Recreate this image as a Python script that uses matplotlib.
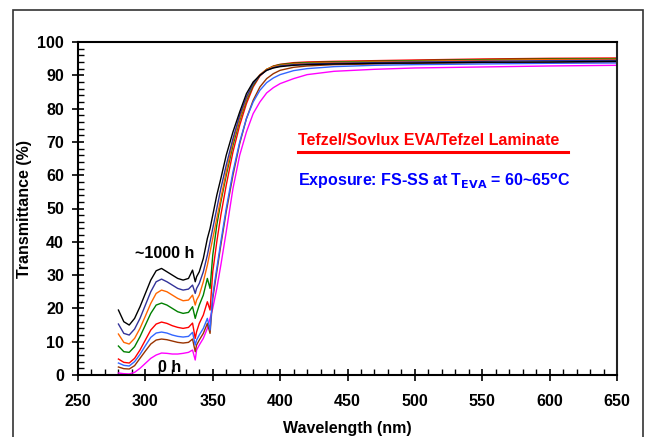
import matplotlib
matplotlib.use("Agg")
import matplotlib.pyplot as plt
from matplotlib.patches import Rectangle
from matplotlib.ticker import MultipleLocator

plt.rcParams['font.family'] = ['Liberation Sans', 'DejaVu Sans']
plt.rcParams['font.weight'] = 'bold'

# wavelength grid (nm)
wl = [280, 284, 288, 292, 296, 300, 304, 308, 312, 316, 320, 324, 328, 332, 335, 337, 338,
      340, 343, 346, 348, 350, 353, 356, 360, 365, 370, 375, 380, 385, 390, 395, 400,
      410, 420, 440, 470, 500, 550, 600, 650]

# transmittance (%) per exposure, ~1000 h first, 0 h last
t_black = [19.5, 16, 15, 17, 20.5, 24.5, 28.5, 31.3, 32, 31, 30, 29, 28.5, 29, 31.5, 28, 29.5,
           31, 35, 41, 44, 48, 54, 59, 66, 73, 79, 84.5, 88, 90, 91.5, 92.2, 92.6,
           93, 93.2, 93.4, 93.6, 93.7, 93.9, 94, 94.2]
t_navy = [15.3, 12.5, 12, 13.8, 17, 21, 25, 28, 28.8, 28, 27, 26, 25.5, 25.8, 27, 24.5, 26,
          27.5, 31, 36, 40, 44, 50, 56, 63, 71, 78, 83.5, 87.5, 90, 91.5, 92.3, 92.8,
          93.2, 93.4, 93.6, 93.8, 94, 94.2, 94.4, 94.5]
t_orange = [12.3, 9.8, 9.3, 11, 14, 17.7, 21.5, 24.5, 25.5, 25, 24, 23, 22.3, 22.5, 24, 21, 22.5,
            24, 28, 33, 37, 41, 47, 53, 61, 70, 77, 83, 87.5, 90.2, 91.8, 92.6, 93,
            93.4, 93.6, 93.8, 94, 94.2, 94.5, 94.7, 94.8]
t_green = [8.7, 7, 6.8, 8.5, 11.5, 15, 18.5, 21, 21.6, 21, 20, 19, 18.5, 18.8, 20.5, 17, 18.5,
           21, 24, 29, 26, 36, 45, 52, 60, 69, 76.5, 82.5, 87, 90, 91.8, 92.7, 93.2,
           93.6, 93.8, 94, 94.2, 94.4, 94.7, 94.9, 95]
t_red = [4.8, 3.8, 3.6, 5, 7.5, 10.5, 13.5, 15.3, 15.9, 15.5, 14.8, 14.3, 14, 14.3, 15.6, 11, 13,
         15.5, 18, 22, 19.5, 31, 40, 48, 57, 67, 75, 81.5, 86.5, 89.8, 91.7, 92.8, 93.3,
         93.8, 94, 94.2, 94.4, 94.6, 94.9, 95.1, 95.2]
t_blue = [3.6, 2.9, 2.7, 4, 6.2, 8.8, 11.3, 12.6, 12.9, 12.6, 12, 11.6, 11.4, 11.6, 12.8, 9, 10.5,
          12, 14, 17, 13.5, 24, 32, 40, 50, 61, 70, 77, 82, 85.5, 87.8, 89.2, 90.2,
          91.4, 92, 92.6, 93, 93.2, 93.4, 93.6, 93.7]
t_brown = [2.4, 1.9, 1.8, 2.8, 5, 7.2, 9.3, 10.5, 10.8, 10.6, 10.2, 9.8, 9.6, 9.8, 10.8, 7, 9,
           10.5, 12.5, 15.5, 12.5, 23, 31, 39, 49, 60, 69.5, 77, 82.5, 86.5, 89, 90.5, 91.5,
           92.4, 92.8, 93.2, 93.4, 93.6, 93.8, 93.9, 94]
t_magenta = [0.6, 0.4, 0.3, 0.8, 2, 3.5, 5, 6, 6.6, 6.5, 6.3, 6.3, 6.5, 6.8, 7.5, 4.5, 7.5,
             9, 11, 14, 17, 20, 26, 33, 43, 56, 66, 73, 78.5, 82, 84.7, 86.3, 87.5,
             89, 90.2, 91.2, 91.8, 92.2, 92.5, 92.8, 93]

series = [
    (t_magenta, '#ff00ff'),
    (t_brown, '#993300'),
    (t_blue, '#3366ff'),
    (t_red, '#ff0000'),
    (t_green, '#008000'),
    (t_orange, '#ff6600'),
    (t_navy, '#333399'),
    (t_black, '#000000'),
]

fig = plt.figure(figsize=(6.45, 4.37), dpi=100)
# outer frame of the slide
fig.patches.append(Rectangle((13/645, -0.1), 630/645, 1.1 - 10/437, transform=fig.transFigure,
                             fill=False, edgecolor='#333333', linewidth=1.2))
ax = fig.add_axes([78/645, 62/437, 539/645, 333/437])

for vals, col in series:
    ax.plot(wl, vals, color=col, linewidth=1.0)

ax.set_xlim(250, 650)
ax.set_ylim(0, 100)
ax.xaxis.set_major_locator(MultipleLocator(50))
ax.xaxis.set_minor_locator(MultipleLocator(10))
ax.yaxis.set_major_locator(MultipleLocator(10))
ax.yaxis.set_minor_locator(MultipleLocator(2))
ax.tick_params(which='major', direction='inout', length=8, width=1.2, labelsize=11.5)
ax.tick_params(axis='x', which='major', pad=10)
ax.tick_params(axis='y', which='major', pad=6)
ax.tick_params(which='minor', direction='in', length=4, width=1.0)
for lab in ax.get_xticklabels() + ax.get_yticklabels():
    lab.set_fontweight('bold')
for s in ['left', 'bottom', 'top', 'right']:
    ax.spines[s].set_linewidth(1.5)
ax.spines['right'].set_color('#222222')

ax.set_xlabel('Wavelength (nm)', fontsize=11.5, fontweight='bold', labelpad=8)
ax.set_ylabel('Transmittance (%)', fontsize=11.5, fontweight='bold', labelpad=4)

ax.text(292, 36.5, '~1000 h', fontsize=11.5, fontweight='bold', ha='left', va='center')
ax.text(309.5, 2.3, '0 h', fontsize=11.5, fontweight='bold', ha='left', va='center')

ax.text(413, 70.3, 'Tefzel/Sovlux EVA/Tefzel Laminate', fontsize=11.5, fontweight='bold',
        color='#ff0000', ha='left', va='center')
ax.plot([413, 613.5], [67, 67], color='#ff0000', linewidth=2.2, clip_on=False)
ax.text(413, 58.3, r'Exposure: FS-SS at T$_{\mathbf{EVA}}$ = 60~65$^{\mathbf{o}}$C', fontsize=11.5,
        fontweight='bold', color='#0000ff', ha='left', va='center')

fig.savefig('out.png', dpi=100)
